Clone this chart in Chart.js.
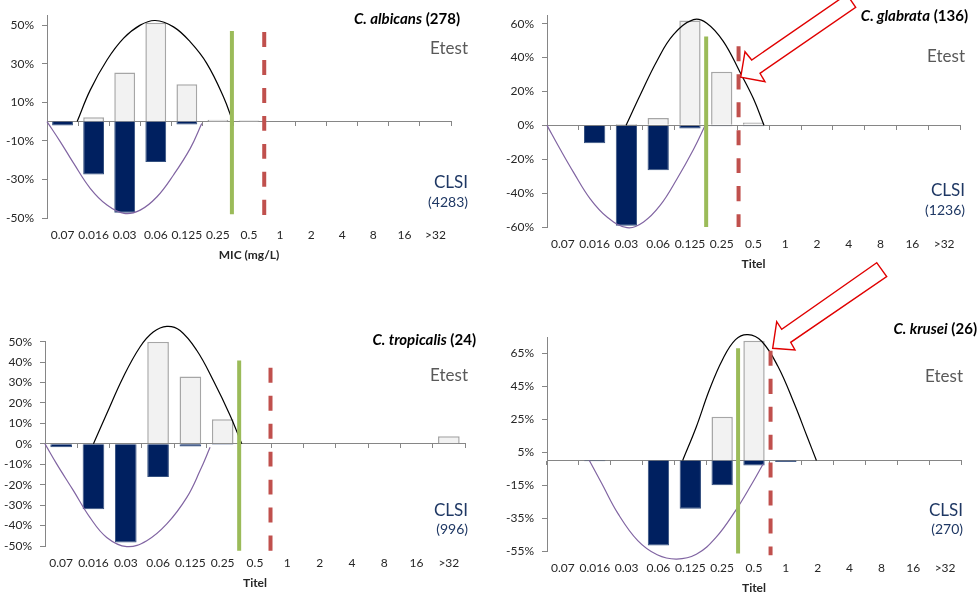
<!DOCTYPE html>
<html lang="en">
<head>
<meta charset="utf-8" />
<title>MIC distributions Etest vs CLSI</title>
<script src="https://cdn.jsdelivr.net/npm/chart.js"></script>
<style>
    html, body { margin: 0; padding: 0; background: #fff; overflow: hidden; }
    body { width: 980px; height: 593px; position: relative; font-family: Lato, "Open Sans", sans-serif; }
    canvas { position: absolute; }
    .lbl { position: absolute; white-space: nowrap; text-align: right; line-height: 1; }
    .ttl { font-size: 15px; font-weight: bold; color: #000; }
    .ttl i { font-style: italic; }
    .etest { font-size: 17px; color: #595959; }
    .clsi { font-size: 17px; color: #1f3864; }
    .n { font-size: 14px; color: #1f3864; }
    svg { position: absolute; left: 0; top: 0; }
</style>
</head>
<body>

<canvas id="c1" width="490" height="300" style="left:0;top:0"></canvas>
<canvas id="c2" width="490" height="300" style="left:490px;top:0"></canvas>
<canvas id="c3" width="490" height="300" style="left:0;top:300px"></canvas>
<canvas id="c4" width="490" height="300" style="left:490px;top:300px"></canvas>

<!-- panel texts -->
<div class="lbl ttl" style="right:520px;top:11px"><i>C. albicans</i> (278)</div>
<div class="lbl etest" style="right:512px;top:39px">Etest</div>
<div class="lbl clsi" style="right:512px;top:173px">CLSI</div>
<div class="lbl n" style="right:512px;top:195px">(4283)</div>

<div class="lbl ttl" style="right:12px;top:8px"><i>C. glabrata</i> (136)</div>
<div class="lbl etest" style="right:15px;top:47px">Etest</div>
<div class="lbl clsi" style="right:15px;top:181px">CLSI</div>
<div class="lbl n" style="right:15px;top:203px">(1236)</div>

<div class="lbl ttl" style="right:504px;top:332px"><i>C. tropicalis</i> (24)</div>
<div class="lbl etest" style="right:512px;top:366px">Etest</div>
<div class="lbl clsi" style="right:512px;top:501px">CLSI</div>
<div class="lbl n" style="right:512px;top:522px">(996)</div>

<div class="lbl ttl" style="right:3px;top:321px"><i>C. krusei</i> (26)</div>
<div class="lbl etest" style="right:17px;top:367px">Etest</div>
<div class="lbl clsi" style="right:17px;top:501px">CLSI</div>
<div class="lbl n" style="right:17px;top:522px">(270)</div>

<!-- call-out arrows -->
<svg width="980" height="593">
    <polygon points="846.8,-5.6 751.7,60 745,51.7 740.7,77.3 765,81.7 760,73.3 855.7,7.3"
             fill="#fff" stroke="#e00000" stroke-width="1.4" />
    <polygon points="876.7,262.7 781.7,329.3 776.7,321.7 772.7,348.3 795,350 790.7,342.3 886.7,276.7"
             fill="#fff" stroke="#e00000" stroke-width="1.4" />
</svg>

<script>
    // MIC categories (mg/L)
    const micLabels = ['0.07', '0.016', '0.03', '0.06', '0.125', '0.25', '0.5', '1', '2', '4', '8', '16', '>32'];

    // C. albicans
    const albEtest = [0, 2.2, 25.5, 51.2, 19.3, 1, 0.5, 0, 0, 0, 0, 0, 0];
    const albClsi = [-2, -27.4, -47.3, -21, -1.5, 0, 0, 0, 0, 0, 0, 0, 0];
    const albTicks = [-50, -30, -10, 10, 30, 50];
    const albEtestCurve = [[0.47, 0], [0.89, 16.3], [1.43, 31.9], [1.96, 43.1], [2.5, 50], [2.98, 52.4], [3.57, 49.1], [4.11, 41.3], [4.64, 30.2], [5.18, 12.8], [5.48, 0]];
    const albClsiCurve = [[-0.5, 0], [-0.07, -10.5], [0.36, -21.7], [0.89, -34.6], [1.43, -43.3], [1.98, -47.6], [2.5, -45.9], [3.04, -39], [3.57, -27.7], [4.11, -13.9], [4.48, -1]];
    const albGreen = [[5.45, 47], [5.45, -48]];
    const albRed = [[6.49, 46.5], [6.49, -48.4]];

    // C. glabrata
    const glaEtest = [0, 0, 0.8, 4.3, 61.9, 31.6, 1.7, 0.3, 0, 0, 0, 0, 0];
    const glaClsi = [0, -10.5, -59.3, -26.5, -1.9, -0.5, -0.5, 0, 0, 0, 0, 0, 0];
    const glaTicks = [-60, -40, -20, 0, 20, 40, 60];
    const glaEtestCurve = [[1.99, 0], [2.43, 17.7], [2.96, 38], [3.48, 53.5], [4.11, 62.4], [4.53, 60.3], [5.05, 49.6], [5.58, 31.2], [6.0, 15.7], [6.33, 0]];
    const glaClsiCurve = [[-0.5, 0], [-0.08, -14.3], [0.34, -27.9], [0.86, -43.4], [1.39, -54.1], [2.02, -60.4], [2.54, -57], [3.06, -47.3], [3.59, -31.7], [4.11, -14.3], [4.48, 0]];
    const glaGreen = [[4.51, 52.5], [4.51, -60]];
    const glaRed = [[5.53, 46.7], [5.53, -60]];

    // C. tropicalis
    const troEtest = [0, 0, 0, 50, 33, 12, 0, 0.3, 0, 0, 0, 0.3, 3.7];
    const troClsi = [-1.7, -32, -48.3, -16.2, -1.3, -0.5, 0, 0, 0, 0, 0, 0, 0];
    const troTicks = [-50, -40, -30, -20, -10, 0, 10, 20, 30, 40, 50];
    const troEtestCurve = [[1.0, 0], [1.41, 14.7], [1.92, 32.6], [2.44, 47.4], [2.85, 54.7], [3.27, 57.5], [3.68, 55.5], [4.2, 45.7], [4.71, 31], [5.23, 13.9], [5.59, 0]];
    const troClsiCurve = [[-0.5, 0], [-0.14, -9.8], [0.38, -22.9], [0.89, -36], [1.41, -45.8], [2.03, -50.3], [2.65, -47.4], [3.27, -39.2], [3.89, -26.2], [4.3, -13.1], [4.61, -1.7]];
    const troGreen = [[5.51, 40.8], [5.51, -52.3]];
    const troRed = [[6.48, 37.3], [6.48, -52.6]];

    // C. krusei
    const kruEtest = [0, 0, 0, 0, 0, 26.6, 72.7, 0, 0, 0, 0, 0, 0];
    const kruClsi = [0, -0.5, 0, -51.7, -29.4, -15, -3, -1, 0, 0, 0, 0, 0];
    const kruTicks = [-55, -35, -15, 5, 25, 45, 65];
    const kruEtestCurve = [[3.76, 0], [4.19, 20.5], [4.6, 42.9], [5.01, 61.2], [5.42, 73.4], [5.81, 76.4], [6.24, 72.4], [6.75, 57.2], [7.26, 34.7], [7.67, 14.4], [7.96, 0]];
    const kruClsiCurve = [[0.83, 0], [1.22, -14], [1.73, -32.3], [2.35, -48.7], [2.96, -57.3], [3.57, -59.9], [4.19, -57], [4.8, -46.9], [5.42, -30.5], [5.93, -14.3], [6.29, -2]];
    const kruGreen = [[5.5, 68.2], [5.5, -56.5]];
    const kruRed = [[6.52, 66.7], [6.52, -57.6]];

    const FONT = 'Lato, "Open Sans", sans-serif';
    const pts = arr => arr.map(p => ({ x: p[0], y: p[1] }));

    function lineSet(data, color, width, dash) {
        return {
            type: 'line', data: pts(data), xAxisID: 'xl', yAxisID: 'y',
            borderColor: color, borderWidth: width, borderDash: dash || [],
            pointRadius: 0, fill: false, tension: 0.4, clip: false, order: 0
        };
    }

    function DrawPanel(id, p) {
        const ctx = document.getElementById(id).getContext('2d');
        return new Chart(ctx, {
            data: {
                labels: micLabels,
                datasets: [
                    lineSet(p.green, '#9bbb59', 4),
                    lineSet(p.red, '#c0504d', 4, [15, 13]),
                    lineSet(p.etestCurve, '#000000', 1.2),
                    lineSet(p.clsiCurve, '#8064a2', 1.2),
                    {
                        type: 'bar', label: 'Etest', data: p.etest, xAxisID: 'x', yAxisID: 'y',
                        backgroundColor: '#f2f2f2', borderColor: '#a6a6a6', borderWidth: 1.5,
                        barPercentage: 0.67, categoryPercentage: 1, grouped: false, order: 2
                    },
                    {
                        type: 'bar', label: 'CLSI', data: p.clsi, xAxisID: 'x', yAxisID: 'y',
                        backgroundColor: '#002060', borderColor: '#34507f', borderWidth: 1,
                        barPercentage: 0.67, categoryPercentage: 1, grouped: false, order: 1
                    }
                ]
            },
            options: {
                responsive: false,
                animation: false,
                layout: { padding: p.pad },
                plugins: { legend: { display: false }, tooltip: { enabled: false } },
                scales: {
                    x: {
                        type: 'category', axis: 'x', position: 'bottom', offset: true,
                        grid: { display: false, drawTicks: false },
                        border: { display: false },
                        ticks: { padding: 10, maxRotation: 0, autoSkip: false, color: '#262626', font: { family: FONT, size: 12 } },
                        title: { display: true, text: p.xTitle, padding: 0, color: '#262626', font: { family: FONT, size: 12, weight: 'bold' } },
                        afterFit: s => { s.height = 44; }
                    },
                    x0: {
                        type: 'category', axis: 'x', position: { y: 0 }, offset: true, z: 1,
                        grid: { offset: true, drawOnChartArea: false, drawTicks: true, tickLength: 4, color: '#868686' },
                        border: { color: '#868686', width: 1 },
                        ticks: { display: false }
                    },
                    xl: { type: 'linear', axis: 'x', display: false, min: -0.5, max: 12.5 },
                    y: {
                        type: 'linear', position: 'left', min: p.min, max: p.max,
                        grid: { drawOnChartArea: false, drawTicks: true, tickLength: 5, color: '#868686' },
                        border: { color: '#868686', width: 1 },
                        ticks: { padding: 8, color: '#262626', font: { family: FONT, size: 12 }, callback: v => v + '%' },
                        afterBuildTicks: s => { s.ticks = p.ticks.map(v => ({ value: v })); },
                        afterFit: s => { s.width = p.yWidth; }
                    }
                }
            }
        });
    }

    DrawPanel('c1', {
        etest: albEtest, clsi: albClsi, ticks: albTicks, min: -50, max: 55,
        etestCurve: albEtestCurve, clsiCurve: albClsiCurve, green: albGreen, red: albRed,
        xTitle: 'MIC (mg/L)', yWidth: 47, pad: { top: 15.5, right: 39, bottom: 38, left: 0 }
    });
    DrawPanel('c2', {
        etest: glaEtest, clsi: glaClsi, ticks: glaTicks, min: -60, max: 65,
        etestCurve: glaEtestCurve, clsiCurve: glaClsiCurve, green: glaGreen, red: glaRed,
        xTitle: 'Titel', yWidth: 57, pad: { top: 12, right: 20, bottom: 29, left: 0 }
    });
    DrawPanel('c3', {
        etest: troEtest, clsi: troClsi, ticks: troTicks, min: -50, max: 50,
        etestCurve: troEtestCurve, clsiCurve: troClsiCurve, green: troGreen, red: troRed,
        xTitle: 'Titel', yWidth: 45, pad: { top: 41.7, right: 25, bottom: 10, left: 0 }
    });
    DrawPanel('c4', {
        etest: kruEtest, clsi: kruClsi, ticks: kruTicks, min: -55, max: 75,
        etestCurve: kruEtestCurve, clsiCurve: kruClsiCurve, green: kruGreen, red: kruRed,
        xTitle: 'Titel', yWidth: 57, pad: { top: 37, right: 19, bottom: 5, left: 0 }
    });
</script>
</body>
</html>
